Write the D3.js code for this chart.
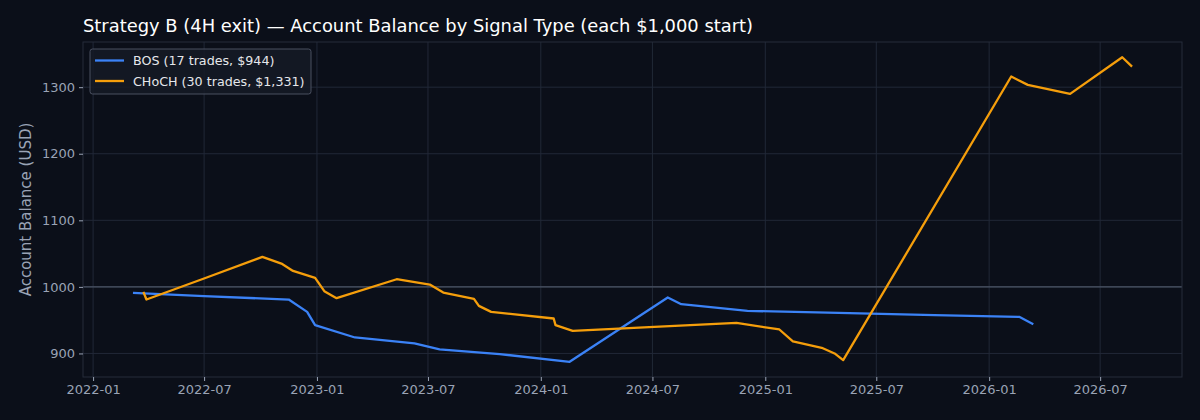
<!DOCTYPE html>
<html>
<head>
<meta charset="utf-8">
<script src="https://cdn.jsdelivr.net/npm/d3@7"></script>
<style>
  html, body { margin: 0; padding: 0; background: #0b0f19; }
  text { font-family: "DejaVu Sans", sans-serif; }
</style>
</head>
<body>
<script>
var w = 1200;
var h = 420;

// BOS series (17 trades)
var bosDates = ["2022-03-07","2022-07-01","2022-11-16","2022-12-16","2022-12-29","2023-03-04","2023-06-09","2023-07-20","2023-10-26",
  "2024-02-17","2024-07-26","2024-08-17","2024-12-03","2025-05-18","2025-10-04","2026-02-19","2026-03-14"];
var bosValues = [991, 986, 981, 962.5, 942.5, 924, 915, 906, 899, 887.5, 984, 974, 964, 960.5, 957.5, 955, 944];

// CHoCH series (30 trades)
var chochDates = ["2022-03-24","2022-03-29","2022-07-02","2022-10-04","2022-11-04","2022-11-23","2022-12-29","2023-01-13","2023-02-02",
  "2023-05-11","2023-07-04","2023-07-26","2023-09-14","2023-09-22","2023-10-12","2024-01-22","2024-01-25","2024-02-22","2024-07-04",
  "2024-11-15","2025-01-24","2025-02-15","2025-04-03","2025-04-24","2025-05-08","2026-02-06","2026-03-05","2026-05-13","2026-08-06","2026-08-22"];
var chochValues = [992.5, 981, 1013, 1045, 1035, 1024, 1013.5, 993.5, 983, 1011.5, 1003.5, 991.5, 982, 971.5, 962.5, 952.5, 942.5, 934, 940,
  946, 936, 918, 908.5, 900, 890, 1316, 1303.5, 1290, 1345, 1331];

var seriesNames = ["BOS (17 trades, $944)", "CHoCH (30 trades, $1,331)"];
var seriesColors = ["#3b82f6", "#f59e0b"];
var yTicks = [900, 1000, 1100, 1200, 1300];
var startBalance = 1000;

var parse = d3.timeParse("%Y-%m-%d");
var series = [
  bosDates.map(function(d, i){ return {date: parse(d), value: bosValues[i]}; }),
  chochDates.map(function(d, i){ return {date: parse(d), value: chochValues[i]}; })
];

var margin = {left: 83, right: 18, top: 42, bottom: 43};
var all = series[0].concat(series[1]);
var xExt = d3.extent(all, function(d){ return d.date; });
var yExt = d3.extent(all, function(d){ return d.value; });
var xPad = (xExt[1] - xExt[0]) * 0.05;
var yPad = (yExt[1] - yExt[0]) * 0.05;

var x = d3.scaleTime()
  .domain([new Date(+xExt[0] - xPad), new Date(+xExt[1] + xPad)])
  .range([margin.left, w - margin.right]);
var y = d3.scaleLinear()
  .domain([yExt[0] - yPad, yExt[1] + yPad])
  .range([h - margin.bottom, margin.top]);

const svg = d3.select("body").append("svg").attr("width", w).attr("height", h).style("background-color", "#0b0f19");

//GRID
var xTickVals = d3.timeMonth.every(6).range(new Date(2022, 0, 1), new Date(2026, 7, 1));
var grid = svg.append("g");
grid.selectAll("line.v").data(xTickVals).enter().append("line")
  .attr("x1", function(d){ return x(d); }).attr("x2", function(d){ return x(d); })
  .attr("y1", margin.top).attr("y2", h - margin.bottom)
  .attr("stroke", "#212837").attr("stroke-width", 1);
grid.selectAll("line.h").data(yTicks).enter().append("line")
  .attr("x1", margin.left).attr("x2", w - margin.right)
  .attr("y1", function(d){ return y(d); }).attr("y2", function(d){ return y(d); })
  .attr("stroke", "#212837").attr("stroke-width", 1);

//START BALANCE LINE
svg.append("line")
  .attr("x1", margin.left).attr("x2", w - margin.right)
  .attr("y1", y(startBalance)).attr("y2", y(startBalance))
  .attr("stroke", "#4b5566").attr("stroke-width", 1.2);

//SPINES
svg.append("rect")
  .attr("x", margin.left).attr("y", margin.top)
  .attr("width", w - margin.left - margin.right).attr("height", h - margin.top - margin.bottom)
  .attr("fill", "none").attr("stroke", "#262d3b").attr("stroke-width", 1);

//AXES
var xAxis = svg.append("g").attr("transform", "translate(0," + (h - margin.bottom) + ")")
  .call(d3.axisBottom(x).tickValues(xTickVals).tickFormat(d3.timeFormat("%Y-%m")).tickSizeOuter(0).tickSize(4).tickPadding(4));
var yAxis = svg.append("g").attr("transform", "translate(" + margin.left + ",0)")
  .call(d3.axisLeft(y).tickValues(yTicks).tickFormat(d3.format("d")).tickSizeOuter(0).tickSize(4).tickPadding(4));
[xAxis, yAxis].forEach(function(a){
  a.select(".domain").remove();
  a.selectAll(".tick line").attr("stroke", "#9aa3b5");
  a.selectAll(".tick text").attr("fill", "#9aa3b5").style("font-size", "13px").style("font-family", "DejaVu Sans");
});

//LINES
var line = d3.line().x(function(d){ return x(d.date); }).y(function(d){ return y(d.value); });
series.forEach(function(s, i){
  svg.append("path").datum(s)
    .attr("fill", "none").attr("stroke", seriesColors[i]).attr("stroke-width", 2.3)
    .attr("stroke-linejoin", "round")
    .attr("d", line);
});

//TITLE & LABELS
svg.append("text").attr("x", margin.left).attr("y", 32)
  .attr("fill", "#ffffff").style("font-size", "17.9px")
  .text("Strategy B (4H exit) \u2014 Account Balance by Signal Type (each $1,000 start)");
svg.append("text")
  .attr("transform", "translate(31," + ((margin.top + h - margin.bottom) / 2) + ") rotate(-90)")
  .attr("text-anchor", "middle").attr("fill", "#9aa3b5").style("font-size", "15px")
  .text("Account Balance (USD)");

//LEGEND
var legend = svg.append("g").attr("transform", "translate(90,49)");
legend.append("rect").attr("width", 221).attr("height", 45).attr("rx", 2.5)
  .attr("fill", "#151a26").attr("fill-opacity", 0.85).attr("stroke", "#4a5060").attr("stroke-width", 1);
seriesNames.forEach(function(n, i){
  legend.append("line").attr("x1", 5).attr("x2", 34).attr("y1", 11.5 + i * 20.5).attr("y2", 11.5 + i * 20.5)
    .attr("stroke", seriesColors[i]).attr("stroke-width", 2.3);
  legend.append("text").attr("x", 43).attr("y", 16 + i * 20.5)
    .attr("fill", "#e5e7eb").style("font-size", "12.7px").text(n);
});
</script>
</body>
</html>
